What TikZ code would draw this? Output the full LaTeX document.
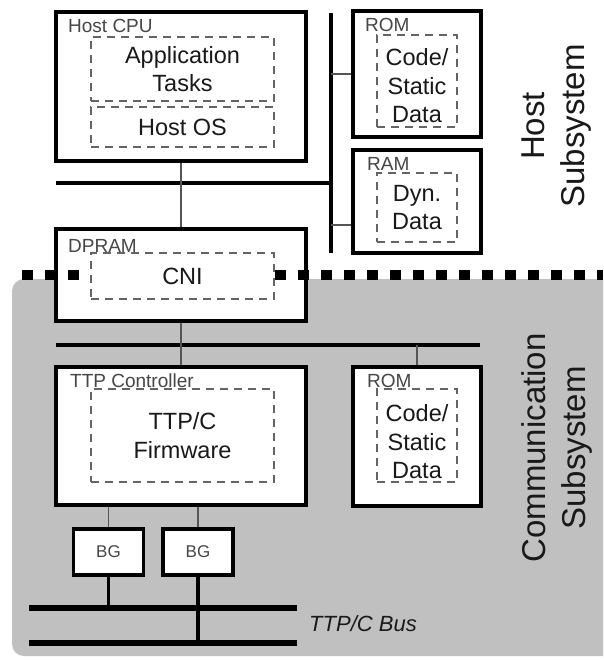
\documentclass[tikz,border=0pt]{standalone}
\usepackage{fontspec}
\setmainfont{Liberation Sans}
\definecolor{commgray}{RGB}{192,192,192}
\definecolor{wiregray}{RGB}{85,85,85}
\definecolor{dashgray}{RGB}{100,100,100}
\definecolor{taggray}{RGB}{70,70,70}
\definecolor{inkgray}{RGB}{25,25,25}
\begin{document}
\begin{tikzpicture}[x=1pt,y=-1pt]
\tikzstyle{unit}=[draw, line width=4pt, fill=white, inner sep=0pt]
\tikzstyle{txt}=[inner sep=0pt, align=center, text=inkgray, font=\fontsize{23.5}{28.5}\selectfont]
\tikzstyle{part}=[txt, draw=dashgray, line width=1.5pt, dash pattern=on 8pt off 6pt, fill=white]
\tikzstyle{tag}=[anchor=base west, inner sep=0pt, text=taggray, font=\fontsize{19}{22}\selectfont]
\tikzstyle{guard}=[draw, line width=3.5pt, fill=white, minimum width=70pt, minimum height=46pt, inner sep=0pt, text=taggray, font=\fontsize{17}{20}\selectfont]
\tikzstyle{wire}=[draw=wiregray, line width=1.5pt]
\tikzstyle{bus}=[draw, line width=3.5pt]
\tikzstyle{trunk}=[draw, line width=5.5pt]
\tikzstyle{side}=[rotate=90, align=center, text=inkgray, font=\fontsize{33}{40}\selectfont]

\useasboundingbox (0,0) rectangle (603,661);
\clip (0,0) rectangle (603,661);
\fill[commgray, rounded corners=12pt] (12,279) rectangle (650,656);

\node[unit, minimum width=250pt, minimum height=149pt] (cpu) at (181,86.5) {};
\node[part, minimum width=183pt, minimum height=64pt] (apps) at (182.5,69) {Application\\Tasks};
\node[part, minimum width=183pt, minimum height=40pt] (os) at (182.5,127) {Host OS};
\node[tag] (cputag) at (68,33) {Host CPU};

\node[unit, minimum width=128pt, minimum height=126pt] (hrom) at (417,74) {};
\node[part, minimum width=80pt, minimum height=92pt] (hromdata) at (417,81) {};
\node[txt] (hromtext) at (417,86) {Code/\\Static\\Data};
\node[tag] (hromtag) at (365,32) {ROM};

\node[unit, minimum width=128pt, minimum height=103pt] (ram) at (417,201.5) {};
\node[part, minimum width=80pt, minimum height=69pt] (ramdata) at (417,207.5) {Dyn.\\Data};
\node[tag] (ramtag) at (367,170) {RAM};

\coordinate (hbustop) at (331,13);
\coordinate (hbusbot) at (331,253);
\coordinate (hlink) at (56,183);
\coordinate (ramport) at ([yshift=-23.5pt]ram.west);
\draw[bus] (hbustop) -- (hbusbot);
\draw[bus] (hlink) -- (hlink -| hbustop);
\draw[wire] (hrom.west) -- (hrom.west -| hbustop);
\draw[wire] (ramport) -- (ramport -| hbustop);

\node[unit, minimum width=250pt, minimum height=92pt] (dpram) at (181,275) {};
\coordinate (seamstart) at (22,275);
\coordinate (seamend) at (603,275);
\draw[line width=10pt, dash pattern=on 11pt off 12pt] (seamstart) -- (seamend);
\node[part, minimum width=183pt, minimum height=46pt] (cni) at (182.5,276) {CNI};
\node[tag] (dpramtag) at (68,252) {DPRAM};

\node[unit, minimum width=250pt, minimum height=138pt] (ttp) at (181,436) {};
\node[part, minimum width=183pt, minimum height=93pt] (fw) at (182.5,435.5) {TTP/C\\Firmware};
\node[tag] (ttptag) at (70,387) {TTP Controller};

\node[unit, minimum width=128pt, minimum height=139pt] (crom) at (417,436.5) {};
\node[part, minimum width=80pt, minimum height=93pt] (cromdata) at (417,435.5) {};
\node[txt] (cromtext) at (417,442) {Code/\\Static\\Data};
\node[tag] (cromtag) at (367,387) {ROM};

\draw[wire] (cpu.south) -- (dpram.north);
\coordinate (cbusl) at (56,345);
\coordinate (cbusr) at (480,345);
\draw[bus] (cbusl) -- (cbusr);
\draw[wire] (dpram.south) -- (ttp.north);
\draw[wire] (crom.north) -- (crom.north |- cbusl);

\node[guard] (bga) at (108.5,552) {BG};
\node[guard] (bgb) at (198,552) {BG};
\draw[wire] (bga.north |- ttp.south) -- (bga.north);
\draw[wire] (bgb.north |- ttp.south) -- (bgb.north);

\coordinate (busal) at (29,608);
\coordinate (busar) at (297,608);
\coordinate (busbl) at (29,643);
\coordinate (busbr) at (297,643);
\draw[trunk] (busal) -- (busar);
\draw[trunk] (busbl) -- (busbr);
\draw[bus] (bga.south) -- (bga.south |- busal);
\draw[bus] (bgb.south) -- (bgb.south |- busbl);
\node[anchor=west, inner sep=0pt, text=inkgray, font=\itshape\fontsize{22}{26}\selectfont] (bustag) at (309,624) {TTP/C Bus};

\node[side] (hostside) at (557,126) {Host\\Subsystem};
\node[side] (commside) at (557,448) {Communication\\Subsystem};
\end{tikzpicture}
\end{document}
